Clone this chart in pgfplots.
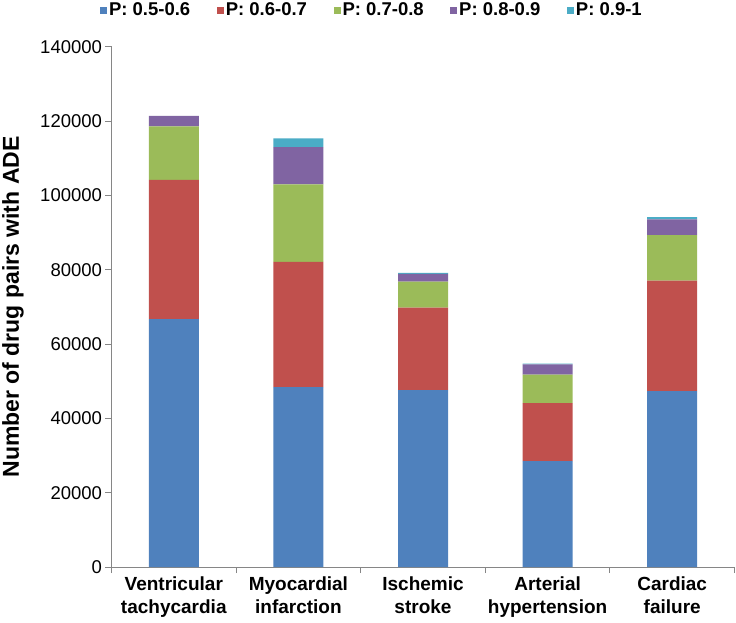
\documentclass[border=0pt]{standalone}
\usepackage{pgfplots}
\pgfplotsset{compat=1.18}
\usepackage{fontspec}
\setmainfont{Liberation Sans}
\usetikzlibrary{calc}
\definecolor{cB}{HTML}{4F81BD}
\definecolor{cR}{HTML}{C0504D}
\definecolor{cG}{HTML}{9BBB59}
\definecolor{cP}{HTML}{8064A2}
\definecolor{cC}{HTML}{4BACC6}
\definecolor{axgray}{HTML}{868686}
\begin{document}
\begin{tikzpicture}
\begin{axis}[
  name=ax,
  scale only axis, width=623pt, height=520pt,
  ybar stacked, bar width=50pt,
  xmin=-0.5, xmax=4.5, ymin=0, ymax=140000,
  axis x line*=bottom, axis y line*=left,
  axis line style={draw=axgray, line width=1pt},
  tick style={draw=axgray, line width=1pt},
  tick align=outside, major tick length=6pt,
  xtick={0,1,2,3,4},
  xticklabels={{Ventricular\\tachycardia},{Myocardial\\infarction},{Ischemic\\stroke},{Arterial\\hypertension},{Cardiac\\failure}},
  xticklabel style={align=center, font=\fontsize{19}{23}\selectfont\bfseries},
  major x tick style={draw=none},
  extra x ticks={-0.5,0.5,1.5,2.5,3.5,4.5},
  extra x tick labels={},
  extra x tick style={major x tick style={draw=axgray, line width=1pt}},
  ytick={0,20000,40000,60000,80000,100000,120000,140000},
  scaled y ticks=false,
  /pgf/number format/assume math mode=true,
  yticklabel style={/pgf/number format/fixed, /pgf/number format/1000 sep={}, font=\fontsize{18.5}{22}\selectfont},
  ylabel={Number of drug pairs with ADE},
  ylabel style={font=\fontsize{23}{27}\selectfont\bfseries, at={(axis description cs:0,0.5)}, yshift=98.5pt, anchor=center},
  legend columns=5,
  legend style={at={(axis description cs:0.418,1.071)}, anchor=center, draw=none, fill=none,
    font=\fontsize{18.5}{22}\selectfont\bfseries,
    /tikz/every even column/.append style={column sep=24.5pt}},
  legend image code/.code={\fill[#1] (0pt,-3.5pt) rectangle (7pt,3.5pt);},
]
\addplot[fill=cB, draw=none] coordinates {(0,66760) (1,48450) (2,47640) (3,28530) (4,47370)};
\addplot[fill=cR, draw=none] coordinates {(0,37490) (1,33730) (2,22160) (3,15620) (4,29700)};
\addplot[fill=cG, draw=none] coordinates {(0,14380) (1,20830) (2,7000) (3,7620) (4,12300)};
\addplot[fill=cP, draw=none] coordinates {(0,2850) (1,10040) (2,2150) (3,2790) (4,4200)};
\addplot[fill=cC, draw=none] coordinates {(0,0) (1,2340) (2,250) (3,200) (4,660)};
\legend{P: 0.5-0.6, P: 0.6-0.7, P: 0.7-0.8, P: 0.8-0.9, P: 0.9-1}
\end{axis}
\pgfresetboundingbox
\path ($(ax.south west)+(-111.5pt,-55pt)$) rectangle ($(ax.north east)+(1.5pt,47pt)$);
\end{tikzpicture}
\end{document}
